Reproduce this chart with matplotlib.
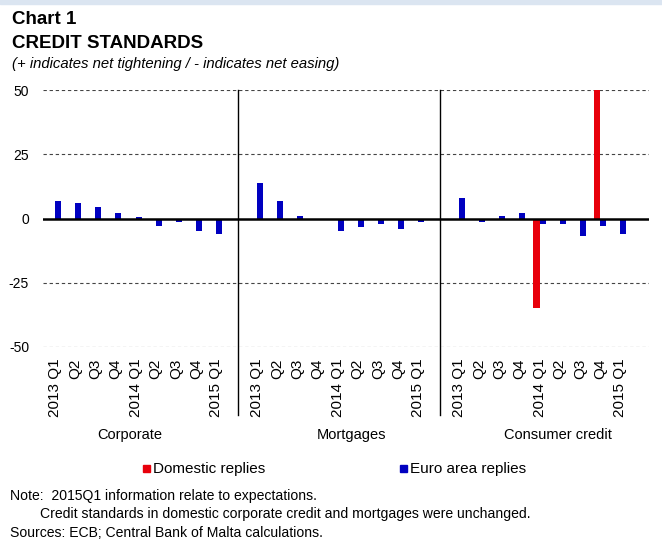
import matplotlib
matplotlib.use('Agg')
import matplotlib.pyplot as plt
from matplotlib.patches import Rectangle
import numpy as np

plt.rcParams['font.family'] = ['Liberation Sans', 'DejaVu Sans']

# ---- data ----
groups = ['Corporate', 'Mortgages', 'Consumer credit']
quarters = ['2013 Q1', 'Q2', 'Q3', 'Q4', '2014 Q1', 'Q2', 'Q3', 'Q4', '2015 Q1']

domestic_corporate = [0, 0, 0, 0, 0, 0, 0, 0, 0]
domestic_mortgages = [0, 0, 0, 0, 0, 0, 0, 0, 0]
domestic_consumer = [0, 0, 0, 0, -35, 0, 0, 50, 0]

euro_corporate = [7, 6, 4.5, 2, 0.5, -3, -1.5, -5, -6]
euro_mortgages = [14, 7, 1, 0, -5, -3.5, -2, -4, -1.5]
euro_consumer = [8, -1.5, 1, 2, -2, -2, -7, -3, -6]

domestic = [domestic_corporate, domestic_mortgages, domestic_consumer]
euro = [euro_corporate, euro_mortgages, euro_consumer]

RED = '#e8000b'
BLUE = '#0000c0'

W, H = 662, 539
fig = plt.figure(figsize=(W / 100, H / 100), dpi=100)

# top strip
fig.patches.append(Rectangle((0, 1 - 4 / H), 1, 4 / H, transform=fig.transFigure,
                             color='#dbe5f1', zorder=0))

ax_left, ax_right, ax_top, ax_bot = 43, 649, 90.3, 346.7
ax = fig.add_axes([ax_left / W, 1 - ax_bot / H, (ax_right - ax_left) / W, (ax_bot - ax_top) / H])

n = len(quarters)
slot = n + 1
positions = []
labels = []
for g in range(len(groups)):
    x = np.arange(n) + g * slot
    ax.bar(x - 0.15, domestic[g], 0.3, color=RED, zorder=2)
    ax.bar(x + 0.15, euro[g], 0.3, color=BLUE, zorder=2)
    positions.extend(list(x))
    labels.extend(quarters)

ax.set_xlim(-0.58, slot * len(groups) - 0.58)
ax.set_ylim(-50, 50)

for y in [50, 25, -25, -50]:
    ax.axhline(y, color='#444444', lw=0.8, ls=(0, (3, 2.5)), zorder=1)
ax.axhline(0, color='black', lw=1.8, zorder=3)

for s in ax.spines.values():
    s.set_visible(False)

ax.set_yticks([-50, -25, 0, 25, 50])
ax.set_yticklabels(['-50', '-25', '0', '25', '50'])
ax.tick_params(axis='y', length=0, pad=10, labelsize=10)

ax.set_xticks(positions)
ax.set_xticklabels(labels, rotation=90, va='top', ha='center')
ax.tick_params(axis='x', length=0, pad=8.5, labelsize=11)

sep_bottom = -(415 - ax_bot) / (ax_bot - ax_top)
for g in range(1, len(groups)):
    ax.axvline(g * slot - 0.92, ymin=sep_bottom, ymax=1, color='black', lw=1, clip_on=False, zorder=4)

group_x = [130, 352, 558]
for gx, name in zip(group_x, groups):
    fig.text(gx / W, 1 - 435 / H, name, ha='center', va='center', fontsize=10.5)

# legend
for sx, tx, col, txt in [(143, 153, RED, 'Domestic replies'), (400, 410, BLUE, 'Euro area replies')]:
    fig.patches.append(Rectangle((sx / W, 1 - 472 / H), 7 / W, 7 / H, transform=fig.transFigure,
                                 color=col))
    fig.text(tx / W, 1 - 468.5 / H, txt, ha='left', va='center', fontsize=11)

# titles
fig.text(12 / W, 1 - 19 / H, 'Chart 1', fontweight='bold', fontsize=13.5, va='center')
fig.text(12 / W, 1 - 43 / H, 'CREDIT STANDARDS', fontweight='bold', fontsize=13.5, va='center')
fig.text(12 / W, 1 - 64 / H, '(+ indicates net tightening / - indicates net easing)',
         fontstyle='italic', fontsize=10.7, va='center')

# notes
fig.text(10 / W, 1 - 496 / H, 'Note:  2015Q1 information relate to expectations.', fontsize=10.1, va='center')
fig.text(40 / W, 1 - 514 / H, 'Credit standards in domestic corporate credit and mortgages were unchanged.',
         fontsize=10.1, va='center')
fig.text(10 / W, 1 - 533 / H, 'Sources: ECB; Central Bank of Malta calculations.', fontsize=10.1, va='center')

fig.savefig('out.png', dpi=100)
